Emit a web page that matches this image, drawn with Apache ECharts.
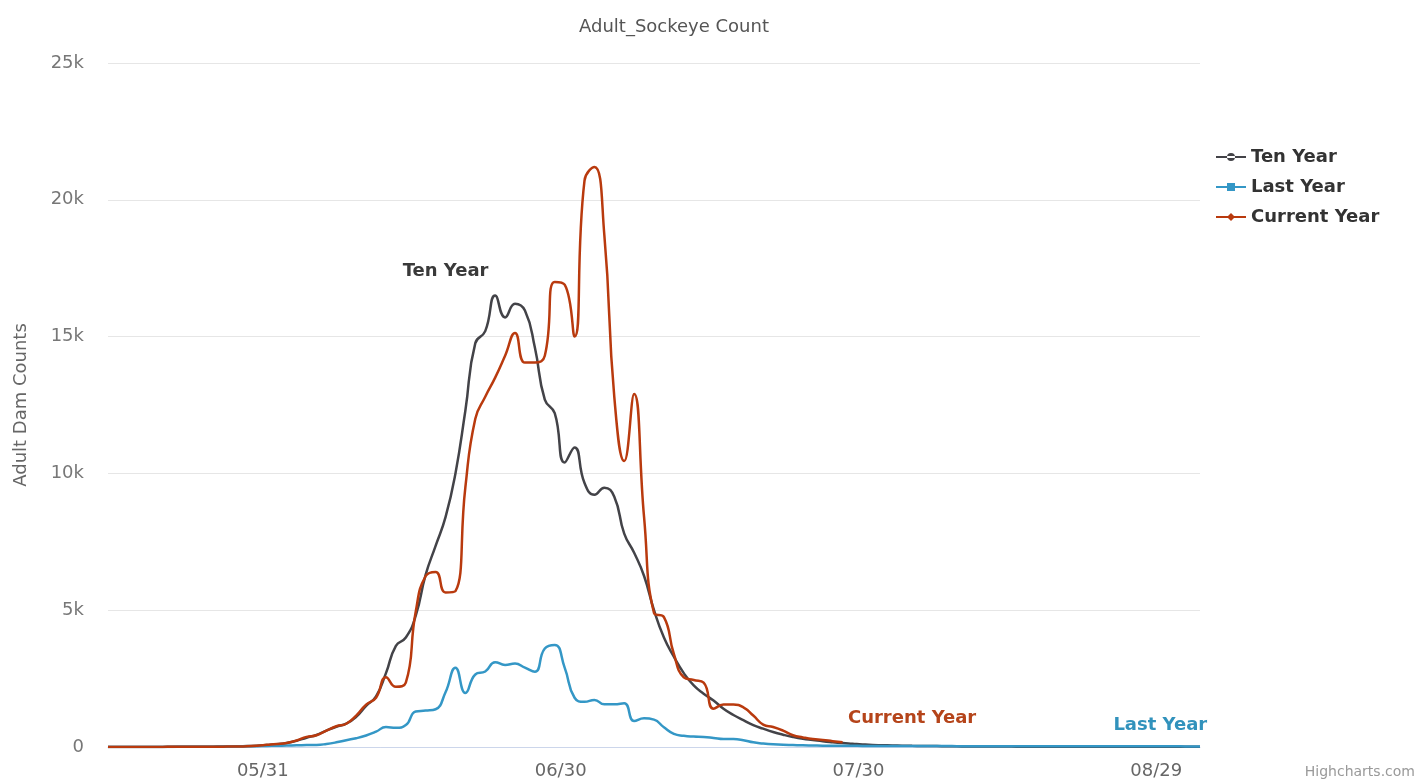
<!DOCTYPE html>
<html>
<head>
<meta charset="utf-8">
<script src="https://cdn.jsdelivr.net/npm/echarts@6/dist/echarts.min.js"></script>
<style>html,body{margin:0;padding:0;background:#fff}#chart{width:1422px;height:783px}</style>
</head>
<body>
<div id="chart"></div>
<script>
var categories = [
'05/15','05/16','05/17','05/18','05/19','05/20','05/21','05/22','05/23','05/24','05/25','05/26','05/27','05/28','05/29','05/30','05/31',
'06/01','06/02','06/03','06/04','06/05','06/06','06/07','06/08','06/09','06/10','06/11','06/12','06/13','06/14','06/15','06/16','06/17','06/18','06/19','06/20','06/21','06/22','06/23','06/24','06/25','06/26','06/27','06/28','06/29','06/30',
'07/01','07/02','07/03','07/04','07/05','07/06','07/07','07/08','07/09','07/10','07/11','07/12','07/13','07/14','07/15','07/16','07/17','07/18','07/19','07/20','07/21','07/22','07/23','07/24','07/25','07/26','07/27','07/28','07/29','07/30','07/31',
'08/01','08/02','08/03','08/04','08/05','08/06','08/07','08/08','08/09','08/10','08/11','08/12','08/13','08/14','08/15','08/16','08/17','08/18','08/19','08/20','08/21','08/22','08/23','08/24','08/25','08/26','08/27','08/28','08/29','08/30','08/31',
'09/01','09/02'];
var tickLabels = ['05/31','06/30','07/30','08/29'];
var yTicks = [0, 5000, 10000, 15000, 20000, 25000];

var tenYear = [
0,0,0,0,0,0,5,5,5,10,10,15,20,25,35,
45,70,100,150,230,340,440,600,740,850,1100,1500,1850,2700,3700,4000,
4800,6300,7350,8400,10000,12300,14760,15200,16500,15700,16200,15950,14600,12700,12200,10400,
10950,9650,9220,9480,9150,7800,7100,6250,5000,4000,3300,2700,2250,1950,1700,1400,
1170,980,800,670,550,450,365,300,256,210,175,145,120,95,75,65,55,48,42,38,34,30,26,22,20,
18,16,15,14,13,12,11,10,10,9,9,8,8,7,7,6,6,6,5,5,5,5,5];

var lastYear = [
0,0,0,0,0,0,0,5,5,5,10,10,15,20,25,
30,40,45,55,60,70,75,110,170,250,320,420,560,730,700,800,
1300,1330,1380,2000,2900,1970,2650,2760,3100,3000,3050,2900,2750,3600,3730,2900,
1800,1650,1720,1560,1560,1600,950,1050,1000,720,480,410,380,365,330,290,
290,250,170,130,100,80,70,60,55,50,50,45,45,40,40,40,38,36,35,34,33,32,32,31,30,
30,30,29,29,28,28,28,27,27,26,26,26,25,25,25,24,24,24,23,23,23,22,22];

var currentYear = [
0,0,0,0,0,0,5,5,5,10,10,10,15,20,30,
50,80,110,150,240,370,430,600,760,850,1150,1550,1800,2550,2200,2350,
4950,6250,6400,5650,5700,9500,12000,12800,13500,14300,15130,14050,14050,14300,17000,16900,
15000,20700,21200,18700,12800,10450,12900,8400,4900,4750,3400,2550,2450,2350,1400,1550,
1550,1450,1150,820,730,600,430,350,290,260,210,170];

var seriesNames = ['Ten Year', 'Last Year', 'Current Year'];
var seriesColors = ['#434348', '#3497c6', '#b93a0e'];
var labelColors = ['#3a3a3a', '#3192bc', '#b5441a'];
var seriesLabelAt = [['06/18', 17400], ['08/29', 800], ['08/04', 1060]];

var FONT = 'DejaVu Sans';
var chart = echarts.init(document.getElementById('chart'), null, {renderer: 'canvas'});

function lineSeries(idx, data) {
  return {
    name: seriesNames[idx],
    type: 'line',
    data: data,
    smooth: 0.5,
    showSymbol: false,
    symbol: 'circle',
    connectNulls: false,
    lineStyle: {width: 2.5, color: seriesColors[idx]},
    itemStyle: {color: seriesColors[idx]},
    z: 2 + idx,
    markPoint: {
      symbol: 'circle',
      symbolSize: 1,
      itemStyle: {color: 'rgba(0,0,0,0)'},
      label: {
        show: true, position: 'inside',
        formatter: seriesNames[idx],
        color: labelColors[idx], fontFamily: FONT, fontWeight: 'bold', fontSize: 18
      },
      data: [{coord: seriesLabelAt[idx]}]
    }
  };
}

var option = {
  animation: false,
  backgroundColor: '#ffffff',
  title: {
    text: 'Adult_Sockeye Count',
    left: 669, top: 13, textAlign: 'center',
    textStyle: {color: '#555555', fontFamily: FONT, fontWeight: 'normal', fontSize: 18}
  },
  legend: {
    orient: 'vertical',
    left: 1211, top: 142,
    itemWidth: 30, itemHeight: 8, itemGap: 10,
    textStyle: {color: '#333333', fontFamily: FONT, fontWeight: 'bold', fontSize: 18, lineHeight: 20},
    data: [
      {name: 'Ten Year', icon: 'path://M0,3h30v2h-30z M11,4a4,4 0 1,0 8,0a4,4 0 1,0 -8,0z'},
      {name: 'Last Year', icon: 'path://M0,3h30v2h-30z M11,0h8v8h-8z'},
      {name: 'Current Year', icon: 'path://M0,3h30v2h-30z M15,0L19,4L15,8L11,4z'}
    ]
  },
  grid: {left: 108, right: 222, top: 63, bottom: 36},
  xAxis: {
    type: 'category',
    data: categories,
    boundaryGap: false,
    axisLine: {show: true, lineStyle: {color: '#ccd6eb', width: 1}},
    axisTick: {show: false},
    splitLine: {show: false},
    axisLabel: {
      interval: function (i, v) { return tickLabels.indexOf(v) >= 0; },
      color: '#666666', fontFamily: FONT, fontSize: 18, margin: 15,
      padding: [0, 8, 0, 0]
    }
  },
  yAxis: {
    type: 'value',
    min: yTicks[0], max: yTicks[yTicks.length - 1], interval: yTicks[1] - yTicks[0],
    name: 'Adult Dam Counts',
    nameLocation: 'middle',
    nameGap: 78,
    nameTextStyle: {color: '#666666', fontFamily: FONT, fontSize: 18},
    axisLine: {show: false},
    axisTick: {show: false},
    splitLine: {lineStyle: {color: '#e6e6e6', width: 1}},
    axisLabel: {
      color: '#777777', fontFamily: FONT, fontSize: 18, margin: 24,
      formatter: function (v) { return v === 0 ? '0' : (v / 1000) + 'k'; }
    }
  },
  graphic: [{
    type: 'text', right: 7, top: 765,
    style: {text: 'Highcharts.com', fill: '#999999', font: '14px "DejaVu Sans"'}
  }],
  series: [
    lineSeries(0, tenYear),
    lineSeries(1, lastYear),
    lineSeries(2, currentYear)
  ]
};
chart.setOption(option);
</script>
</body>
</html>
